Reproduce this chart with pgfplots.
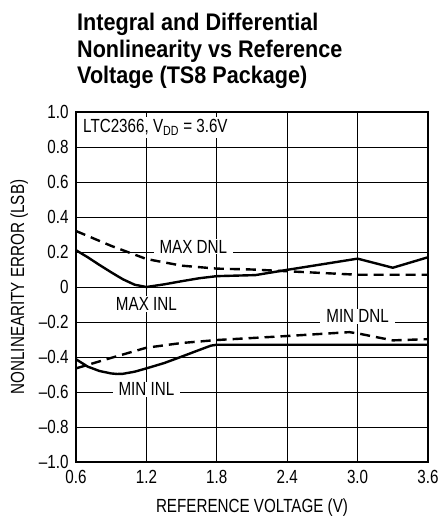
\documentclass[border=0pt]{standalone}
\usepackage{fontspec}
\setmainfont{Liberation Sans}[FakeStretch=0.8]
\newfontfamily\titlefont{Liberation Sans}[FakeStretch=0.9]
\usepackage{pgfplots}
\pgfplotsset{compat=1.18}
\begin{document}
\begin{tikzpicture}[x=1pt,y=1pt]
\useasboundingbox (0,0) rectangle (441,523);
\node[anchor=north west, align=left, font=\titlefont\fontsize{24}{26.5}\selectfont\bfseries, inner sep=0pt] at (77,510)
  {Integral and Differential\\Nonlinearity vs Reference\\Voltage (TS8 Package)};
\begin{axis}[
  at={(76pt,61pt)}, anchor=south west,
  scale only axis, width=352pt, height=350pt,
  xmin=0.6, xmax=3.6, ymin=-1, ymax=1,
  xtick={0.6,1.2,1.8,2.4,3.0,3.6},
  xticklabels={0.6,1.2,1.8,2.4,3.0,3.6},
  ytick={-1,-0.8,-0.6,-0.4,-0.2,0,0.2,0.4,0.6,0.8,1},
  yticklabels={\textendash1.0,\textendash0.8,\textendash0.6,\textendash0.4,\textendash0.2,0,0.2,0.4,0.6,0.8,1.0},
  major tick length=0pt,
  grid=major,
  major grid style={black, line width=0.8pt},
  axis line style={black, line width=1.2pt},
  tick label style={font=\fontsize{19}{21}\selectfont},
  label style={font=\fontsize{19}{21}\selectfont},
  xticklabel style={yshift=-5pt},
  yticklabel style={xshift=-4pt},
  xlabel={REFERENCE VOLTAGE (V)},
  ylabel={NONLINEARITY ERROR (LSB)},
  xlabel style={yshift=-8pt},
  ylabel style={yshift=4pt},
  /pgf/number format/assume math mode=true,
  every axis plot/.append style={line width=2.4pt, black, line join=round},
]
% MAX INL
\addplot[solid] coordinates {(0.6,0.21)(0.7,0.17)(0.8,0.126)(0.9,0.084)(1.0,0.044)(1.1,0.013)(1.2,0.0)(1.35,0.015)(1.5,0.033)(1.65,0.05)(1.8,0.062)(2.13,0.068)(2.4,0.098)(2.7,0.13)(3.0,0.162)(3.3,0.11)(3.6,0.17)};
% MAX DNL
\addplot[dash pattern=on 10pt off 6pt] coordinates {(0.6,0.32)(0.9,0.235)(1.2,0.16)(1.5,0.122)(1.8,0.105)(2.1,0.1)(2.4,0.09)(2.7,0.08)(3.0,0.07)(3.6,0.07)};
% MIN DNL
\addplot[dash pattern=on 10pt off 6pt] coordinates {(0.6,-0.465)(0.9,-0.405)(1.2,-0.347)(1.5,-0.32)(1.8,-0.303)(2.4,-0.28)(2.93,-0.258)(3.0,-0.265)(3.3,-0.305)(3.6,-0.298)};
% MIN INL
\addplot[solid] coordinates {(0.6,-0.413)(0.7,-0.455)(0.8,-0.48)(0.9,-0.494)(0.95,-0.497)(1.0,-0.496)(1.1,-0.484)(1.2,-0.465)(1.35,-0.435)(1.5,-0.398)(1.65,-0.36)(1.75,-0.335)(1.8,-0.33)(3.6,-0.33)};
\node[fill=white, inner xsep=6pt, inner ysep=1pt, font=\fontsize{19}{21}\selectfont] at (axis cs:1.6,0.23) {MAX DNL};
\node[fill=white, inner xsep=4pt, inner ysep=1pt, font=\fontsize{19}{21}\selectfont] at (axis cs:1.2,-0.097) {MAX INL};
\node[fill=white, inner xsep=6pt, inner ysep=1pt, font=\fontsize{19}{21}\selectfont] at (axis cs:3.0,-0.166) {MIN DNL};
\node[fill=white, inner xsep=6pt, inner ysep=1pt, font=\fontsize{19}{21}\selectfont] at (axis cs:1.2,-0.585) {MIN INL};
\node[fill=white, anchor=north west, inner sep=2pt, font=\fontsize{19}{21}\selectfont] at (rel axis cs:0,1) [xshift=5pt, yshift=-5pt] {LTC2366, V\textsubscript{DD} = 3.6V};
\end{axis}
\end{tikzpicture}
\end{document}
